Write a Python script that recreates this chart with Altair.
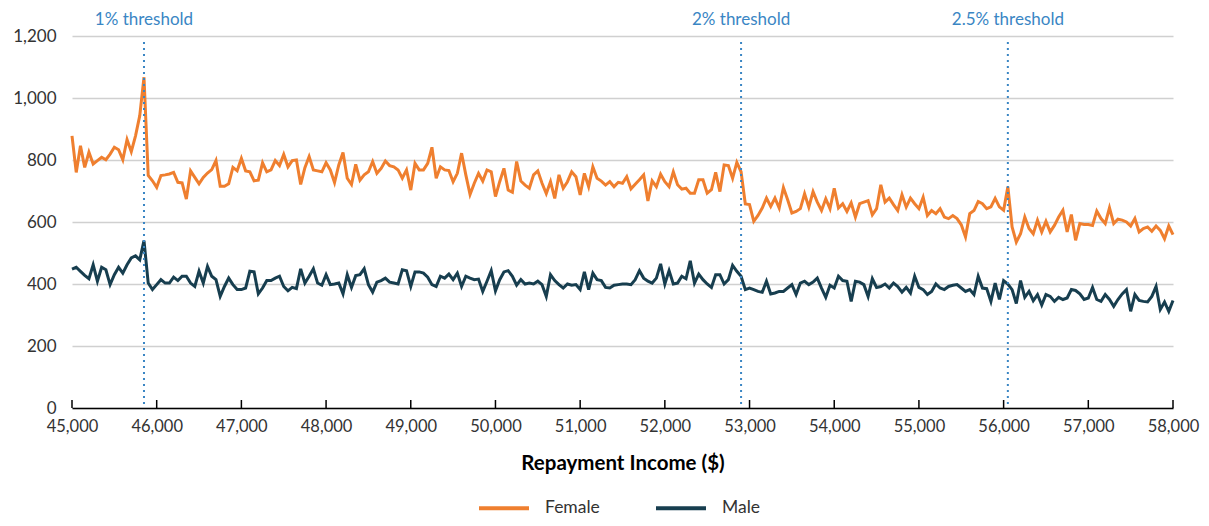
import altair as alt
import pandas as pd
import numpy as np

# x bins ($50 wide)
income = list(range(45000, 58001, 50))

female = [
    878,760,846,776,825,787,798,809,801,819, 841,833,801,866,827,878,943,1067,750,733,
    712,750,752,755,760,728,726,674,765,744, 723,744,758,769,798,715,715,723,776,765,
    805,765,
    762,733,735,791,762,768,798,782,818,778, 798,800,721,775,811,768,765,762,791,768,
    727,784,824,741,721,786,735,752,762,795, 757,773,797,782,778,768,741,768,703,789,
    768,768,789,841,
    741,778,768,766,730,757,822,752,689,725, 757,732,768,762,682,730,773,703,696,795,
    732,719,709,752,765,725,692,730,676,752, 709,730,762,746,687,757,714,778,741,732,
    719,730,714,
    728,725,746,707,722,736,752,668,733,714, 754,730,714,762,720,706,709,693,693,736,
    736,693,704,760,698,784,782,741,792,762, 658,656,602,621,645,677,650,677,645,711,
    672,629,634,
    643,691,648,698,664,637,675,643,709,645, 659,634,662,616,659,664,669,623,643,720,
    664,677,656,637,688,648,677,659,643,680, 621,637,627,643,616,611,621,611,591,552,
    627,637,666,659,
    643,649,676,649,638,714,584,535,562,616, 579,562,606,568,602,568,589,616,638,568,
    624,541,595,592,592,589,635,611,595,646, 595,609,606,600,587,611,568,579,584,570,
    587,573,546,587,559,
]

male = [
    448,454,441,428,417,462,409,454,446,398, 430,454,435,462,484,491,478,540,403,382,
    398,414,403,403,422,411,425,425,403,392, 441,403,457,425,414,360,392,419,398,382,
    382,387,
    441,439,368,387,411,411,419,425,392,378, 389,385,449,403,425,449,403,396,430,398,
    400,403,368,430,389,427,430,449,398,374, 406,411,419,406,403,400,446,443,392,439,
    439,435,422,398,
    392,425,419,432,414,435,392,425,419,414, 416,376,409,443,378,414,439,443,425,396,
    414,400,403,400,409,398,360,430,411,398, 387,400,396,398,382,439,382,435,414,411,
    389,387,396,
    398,400,400,398,414,443,419,409,403,419, 465,400,443,400,403,425,417,475,403,432,
    414,400,389,430,430,400,414,460,441,425, 382,387,382,376,373,409,368,371,376,376,
    387,398,366,
    403,409,398,406,419,387,357,396,387,425, 411,409,344,409,406,398,360,417,389,392,
    400,387,403,392,374,389,371,425,389,382, 366,376,400,387,382,392,396,398,387,376,
    382,366,425,387,
    385,344,403,350,411,400,382,337,411,357, 376,346,366,332,366,360,344,357,350,355,
    382,379,368,350,355,389,350,344,366,350, 328,350,368,382,312,366,347,344,342,360,
    392,318,342,312,347,
]

thresholds = [45850, 52900, 56050]
threshold_labels = ["1% threshold", "2% threshold", "2.5% threshold"]
x_ticks = list(range(45000, 58001, 1000))

n = min(len(income), len(female), len(male))
df = pd.DataFrame({
    "income": income[:n] * 2,
    "count": female[:n] + male[:n],
    "sex": ["Female"] * n + ["Male"] * n,
})
thr = pd.DataFrame({"x": thresholds, "label": threshold_labels})
ticks = pd.DataFrame({"x": x_ticks})

FONT = "Lato"
W, H = 1101, 372

xscale = alt.Scale(domain=[45000, 58000], nice=False)
yscale = alt.Scale(domain=[0, 1200], nice=False)

lines = alt.Chart(df).mark_line(strokeWidth=3).encode(
    x=alt.X("income:Q", scale=xscale,
            axis=alt.Axis(values=x_ticks, format=",.0f", title="Repayment Income ($)",
                          grid=False, ticks=False, domain=True, domainColor="#000000",
                          domainWidth=1.5, labelPadding=10, labelFontSize=16.5,
                          labelFlush=False, labelOverlap=False,
                          labelColor="#333333", labelFont=FONT, titleFont=FONT,
                          titleFontSize=20.5, titleFontWeight="bold", titleColor="#000000",
                          titlePadding=19)),
    y=alt.Y("count:Q", scale=yscale,
            axis=alt.Axis(values=list(range(0, 1201, 200)), format=",.0f", title=None,
                          grid=True, gridColor="#d0d0d0", gridWidth=1.5, ticks=False,
                          domain=False, labelPadding=16, labelFontSize=17,
                          labelColor="#333333", labelFont=FONT)),
    color=alt.Color("sex:N",
                    scale=alt.Scale(domain=["Female", "Male"], range=["#EF7F2F", "#173E4F"]),
                    legend=alt.Legend(title=None, orient="none", legendX=405, legendY=445,
                                      direction="horizontal", symbolType="stroke",
                                      symbolSize=2500, symbolStrokeWidth=4,
                                      labelFontSize=17.5, labelFont=FONT, labelColor="#333333",
                                      columnPadding=48, labelOffset=14)),
)

tick_marks = alt.Chart(ticks).mark_rule(color="#000000", strokeWidth=1.5).encode(
    x=alt.X("x:Q", scale=xscale),
    y=alt.value(H - 8),
    y2=alt.value(H),
)

rules = alt.Chart(thr).mark_rule(color="#3a86c4", strokeWidth=2, strokeDash=[2, 4]).encode(
    x=alt.X("x:Q", scale=xscale),
    y=alt.value(6),
    y2=alt.value(H),
)

labels = alt.Chart(thr).mark_text(color="#3a86c4", fontSize=17, font=FONT, baseline="middle").encode(
    x=alt.X("x:Q", scale=xscale),
    y=alt.value(-16),
    text="label:N",
)

chart = alt.layer(lines, tick_marks, rules, labels).properties(
    width=W, height=H,
    autosize="none",
    padding={"left": 64, "top": 28, "right": 28, "bottom": 110},
).configure_view(stroke=None)

chart.save("out.html", embed_options={"renderer": "svg", "actions": False})
